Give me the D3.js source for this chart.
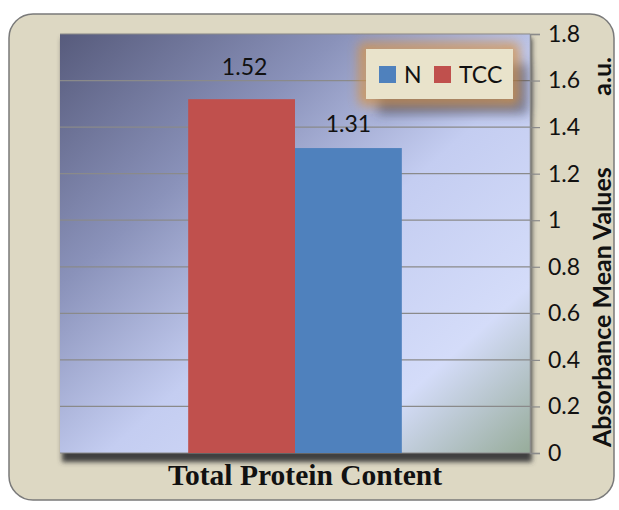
<!DOCTYPE html>
<html><head><meta charset="utf-8">
<script src="https://cdn.jsdelivr.net/npm/d3@7"></script>
<style>body{margin:0;background:#fff;}svg{display:block;}</style>
</head><body>
<script>
const categories = ["Total Protein Content"];
const seriesNames = ["TCC", "N"];
const seriesValues = [1.52, 1.31];
const seriesColors = ["#c0504d", "#4f81bd"];
const legendOrder = ["N", "TCC"];
const yTicks = [0, 0.2, 0.4, 0.6, 0.8, 1, 1.2, 1.4, 1.6, 1.8];
const yTitle = "Absorbance Mean Values";
const yUnit = "a.u.";

const W = 619, H = 510;
const FONT = "Lato, 'Open Sans', sans-serif";
const svg = d3.select("body").append("svg").attr("width", W).attr("height", H);
const defs = svg.append("defs");

const bg = defs.append("linearGradient").attr("id","bg").attr("x1","0").attr("y1","0").attr("x2","1").attr("y2","1");
bg.append("stop").attr("offset","0").attr("stop-color","#575b7c");
bg.append("stop").attr("offset","0.3").attr("stop-color","#8a92ba");
bg.append("stop").attr("offset","0.55").attr("stop-color","#c4cdf1");
bg.append("stop").attr("offset","0.8").attr("stop-color","#d4dcf9");
bg.append("stop").attr("offset","1").attr("stop-color","#97ac9a");

const blur = defs.append("filter").attr("id","blur").attr("x","-30%").attr("y","-50%").attr("width","160%").attr("height","200%");
blur.append("feGaussianBlur").attr("stdDeviation", 6);
const blur2 = defs.append("filter").attr("id","blur2").attr("x","-10%").attr("y","-10%").attr("width","120%").attr("height","130%");
blur2.append("feGaussianBlur").attr("stdDeviation", 2.5);

// outer panel
svg.append("rect").attr("x",9).attr("y",14).attr("width",605).attr("height",486).attr("rx",24)
  .attr("fill","#ddd8c3").attr("stroke","#7a7a7a").attr("stroke-width",1.5);

const m = {left:60, right:530, top:34, bottom:453};
const x = d3.scaleBand().domain(categories).range([m.left, m.right]).paddingInner(0).paddingOuter(0);
const y = d3.scaleLinear().domain([0, 1.8]).range([m.bottom, m.top]);

// plot shadow
svg.append("rect").attr("x",m.left+2).attr("y",m.top+4).attr("width",m.right-m.left).attr("height",m.bottom-m.top+5)
  .attr("fill","#3f3f3f").attr("filter","url(#blur2)");
svg.append("rect").attr("x",m.left).attr("y",m.top).attr("width",m.right-m.left).attr("height",m.bottom-m.top)
  .attr("fill","url(#bg)");

// gridlines
svg.append("g").selectAll("line").data(yTicks).join("line")
  .attr("x1",m.left).attr("x2",m.right).attr("y1",d=>y(d)).attr("y2",d=>y(d))
  .attr("stroke","#8a8a8a").attr("stroke-width",1.2);

// bars
const inner = d3.scaleBand().domain(seriesNames).range([0, x.bandwidth()]).paddingOuter(1.2).paddingInner(0);
const g = svg.append("g");
g.selectAll("rect").data(seriesValues).join("rect")
  .attr("x",(d,i)=>x(categories[0])+inner(seriesNames[i]))
  .attr("y",d=>y(d)).attr("width",inner.bandwidth()).attr("height",d=>y(0)-y(d))
  .attr("fill",(d,i)=>seriesColors[i]);
const labelGap = [24, 16];
g.selectAll("text").data(seriesValues).join("text")
  .attr("x",(d,i)=>x(categories[0])+inner(seriesNames[i])+inner.bandwidth()/2+(i===0?3:0))
  .attr("y",(d,i)=>y(d)-labelGap[i]).attr("text-anchor","middle")
  .attr("font-family",FONT).attr("font-size",23).attr("fill","#111")
  .text(d=>d.toFixed(2));

// legend
const lg = svg.append("g");
lg.append("rect").attr("x",378).attr("y",64).attr("width",150).attr("height",50)
  .attr("fill","#2e3248").attr("opacity",0.55).attr("filter","url(#blur)");
lg.append("rect").attr("x",365).attr("y",49).attr("width",148).attr("height",50)
  .attr("fill","none").attr("stroke","#d9933f").attr("stroke-width",12).attr("opacity",0.8).attr("filter","url(#blur)");
lg.append("rect").attr("x",366).attr("y",49).attr("width",147).attr("height",50).attr("fill","#e9e3cb");
const colorOf = n => seriesColors[seriesNames.indexOf(n)];
const lx = [379, 434];
legendOrder.forEach((n,i)=>{
  lg.append("rect").attr("x",lx[i]).attr("y",66).attr("width",17).attr("height",17).attr("fill",colorOf(n));
  lg.append("text").attr("x",lx[i]+25).attr("y",83).attr("font-family",FONT)
    .attr("font-size",23).attr("fill","#111").text(n);
});

// right axis
const axis = svg.append("g").attr("transform",`translate(${m.right},0)`)
  .call(d3.axisRight(y).tickValues(yTicks).tickSize(10).tickPadding(8).tickFormat(d=>d3.format("")(+d.toFixed(1))));
axis.select(".domain").attr("stroke","#8a8a8a").attr("stroke-width",1.5);
axis.selectAll(".tick line").attr("stroke","#8a8a8a").attr("stroke-width",1.2);
axis.selectAll("text").attr("font-family",FONT).attr("font-size",23).attr("fill","#111");

// x title
svg.append("text").attr("x",305).attr("y",485).attr("text-anchor","middle")
  .attr("font-family","'Liberation Serif', 'Times New Roman', serif").attr("font-weight","bold").attr("font-size",30)
  .attr("textLength",274).attr("lengthAdjust","spacingAndGlyphs")
  .attr("fill","#111").text(categories[0]);

// y title
svg.append("text").attr("transform","translate(611,447) rotate(-90)").attr("text-anchor","start")
  .attr("font-family",FONT).attr("font-weight","bold").attr("font-size",25)
  .attr("fill","#111").text(yTitle);
svg.append("text").attr("transform","translate(611,57) rotate(-90)").attr("text-anchor","end")
  .attr("font-family",FONT).attr("font-weight","bold").attr("font-size",25)
  .attr("fill","#111").text(yUnit);
</script>
</body></html>
